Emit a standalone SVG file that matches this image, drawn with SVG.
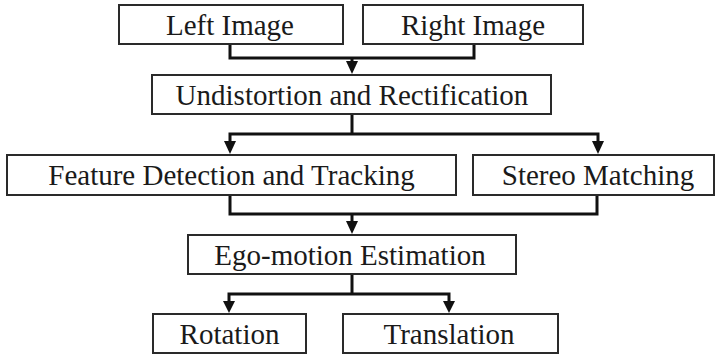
<svg xmlns="http://www.w3.org/2000/svg" width="716" height="355" viewBox="0 0 716 355">
  <style>
    .box { fill: #ffffff; stroke: #2a2a2a; stroke-width: 2; }
    .lbl { font-family: 'Liberation Serif', 'Times New Roman', Times, 'DejaVu Serif', serif; font-size: 29px; fill: #1a1a1a; text-anchor: middle; }
    .wire { fill: none; stroke: #111111; stroke-width: 3; }
    .tip { fill: #111111; }
  </style>
  <rect width="716" height="355" fill="#ffffff"/>

  <!-- connectors: elbow wires plus filled arrow tips -->
  <g id="connectors">
    <polyline class="wire" points="230,44 230,58 474,58 474,44"/>
    <line class="wire" x1="352" y1="58" x2="352" y2="62"/>
    <path class="tip" d="M346,61 L358,61 L352,74 Z"/>

    <polyline class="wire" points="352,114 352,134"/>
    <polyline class="wire" points="230,142 230,134 598,134 598,142"/>
    <path class="tip" d="M224,141 L236,141 L230,154 Z"/>
    <path class="tip" d="M592,141 L604,141 L598,154 Z"/>

    <polyline class="wire" points="230,195 230,214 597,214 597,195"/>
    <line class="wire" x1="352" y1="214" x2="352" y2="222"/>
    <path class="tip" d="M346,221 L358,221 L352,234 Z"/>

    <polyline class="wire" points="352,274 352,294"/>
    <polyline class="wire" points="229,302 229,294 449,294 449,302"/>
    <path class="tip" d="M223,301 L235,301 L229,313 Z"/>
    <path class="tip" d="M443,301 L455,301 L449,313 Z"/>
  </g>

  <!-- nodes -->
  <g id="left-image">
    <rect class="box" x="119" y="5" width="224" height="39"/>
    <text class="lbl" x="230" y="35" font-family="Liberation Serif, serif">Left Image</text>
  </g>
  <g id="right-image">
    <rect class="box" x="363" y="5" width="220" height="39"/>
    <text class="lbl" x="473" y="35">Right Image</text>
  </g>
  <g id="undistortion">
    <rect class="box" x="152" y="75" width="399" height="39"/>
    <text class="lbl" x="352" y="105">Undistortion and Rectification</text>
  </g>
  <g id="feature-detection">
    <rect class="box" x="7" y="155" width="449" height="40"/>
    <text class="lbl" x="231.5" y="185">Feature Detection and Tracking</text>
  </g>
  <g id="stereo-matching">
    <rect class="box" x="473" y="155" width="241" height="40"/>
    <text class="lbl" x="598" y="185">Stereo Matching</text>
  </g>
  <g id="ego-motion">
    <rect class="box" x="188" y="235" width="328" height="39"/>
    <text class="lbl" x="350" y="265">Ego-motion Estimation</text>
  </g>
  <g id="rotation">
    <rect class="box" x="153" y="314" width="153" height="39"/>
    <text class="lbl" x="229.5" y="344">Rotation</text>
  </g>
  <g id="translation">
    <rect class="box" x="343" y="314" width="215" height="39"/>
    <text class="lbl" x="449" y="344">Translation</text>
  </g>
</svg>
